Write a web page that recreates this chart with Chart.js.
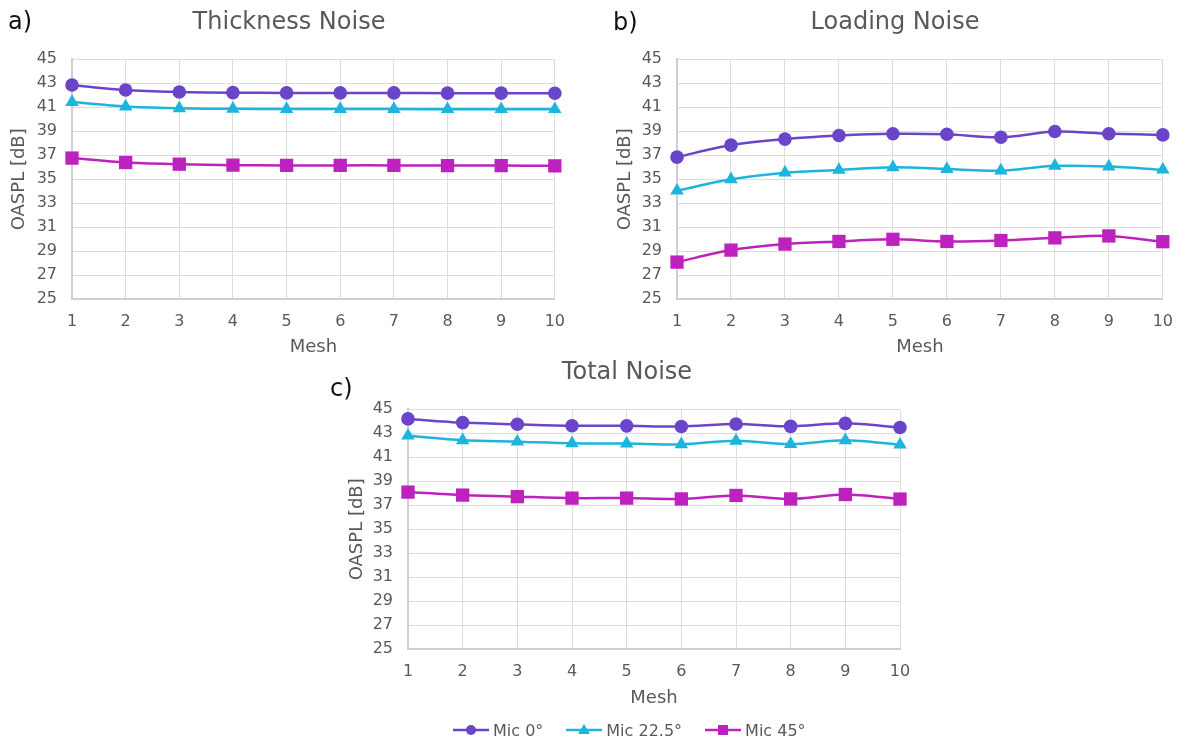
<!DOCTYPE html>
<html>
<head>
<meta charset="utf-8">
<title>OASPL vs Mesh</title>
<script src="https://cdn.jsdelivr.net/npm/chart.js@4.4.1/dist/chart.umd.min.js"></script>
<style>
  html, body { margin: 0; padding: 0; background: #fff; width: 1186px; height: 740px; overflow: hidden; position: relative; font-family: "DejaVu Sans", sans-serif; }
  canvas { position: absolute; }
  #legend { position: absolute; left: 453px; top: 719px; height: 22px; display: flex; align-items: center; color: #595959; font-size: 16px; }
  .item { display: flex; align-items: center; margin-right: 23px; }
  .item svg { margin-right: 4px; }
</style>
</head>
<body>
<canvas id="chartA" width="578" height="360" style="left:0px;top:0px"></canvas>
<canvas id="chartB" width="586" height="360" style="left:600px;top:0px"></canvas>
<canvas id="chartC" width="614" height="367" style="left:320px;top:345px"></canvas>
<div id="legend"></div>

<script>
// Mesh refinement levels
const meshLevels = ['1', '2', '3', '4', '5', '6', '7', '8', '9', '10'];
const yTicks = { min: 25, max: 45, step: 2 };

const seriesNames = ['Mic 0°', 'Mic 22.5°', 'Mic 45°'];

// OASPL [dB] – thickness noise
const thicknessMic0  = [42.86, 42.44, 42.28, 42.22, 42.20, 42.20, 42.20, 42.18, 42.18, 42.17];
const thicknessMic22 = [41.44, 41.06, 40.92, 40.87, 40.85, 40.85, 40.85, 40.84, 40.84, 40.84];
const thicknessMic45 = [36.77, 36.40, 36.26, 36.18, 36.16, 36.16, 36.16, 36.14, 36.14, 36.12];

// OASPL [dB] – loading noise
const loadingMic0  = [36.85, 37.85, 38.35, 38.65, 38.80, 38.75, 38.50, 38.98, 38.80, 38.70];
const loadingMic22 = [34.05, 35.00, 35.55, 35.78, 36.00, 35.85, 35.72, 36.12, 36.06, 35.80];
const loadingMic45 = [28.10, 29.10, 29.60, 29.82, 30.00, 29.82, 29.90, 30.12, 30.28, 29.80];

// OASPL [dB] – total noise
const totalMic0  = [44.20, 43.89, 43.75, 43.63, 43.62, 43.57, 43.78, 43.58, 43.83, 43.48];
const totalMic22 = [42.80, 42.42, 42.30, 42.17, 42.14, 42.08, 42.38, 42.10, 42.42, 42.05];
const totalMic45 = [38.10, 37.85, 37.72, 37.60, 37.60, 37.53, 37.82, 37.53, 37.90, 37.52];

const COLORS = ['#6A45C9', '#1DB5DD', '#BE22BE'];
const MARKERS = [
  { style: 'circle', radius: 6.8 },
  { style: 'triangle', radius: 7.8 },
  { style: 'rect', radius: 9.4 }
];
const TEXT_GREY = '#595959';

Chart.defaults.font.family = '"DejaVu Sans", sans-serif';
Chart.defaults.color = TEXT_GREY;

// Panel tag such as "a)" drawn in the canvas corner
const panelTag = {
  id: 'panelTag',
  afterDraw(chart, args, opts) {
    const ctx = chart.ctx;
    ctx.save();
    ctx.font = '24px "DejaVu Sans", sans-serif';
    ctx.fillStyle = '#111';
    ctx.textBaseline = 'middle';
    ctx.textAlign = 'left';
    ctx.fillText(opts.text, opts.x, opts.y);
    ctx.restore();
  }
};

function makeDatasets(values) {
  return values.map((vals, i) => ({
    label: seriesNames[i],
    data: vals,
    borderColor: COLORS[i],
    backgroundColor: COLORS[i],
    borderWidth: 2.5,
    tension: 0.3,
    pointStyle: MARKERS[i].style,
    pointRadius: MARKERS[i].radius,
    pointBorderWidth: 0,
    pointBackgroundColor: COLORS[i],
    clip: false
  }));
}

function makeChart(id, cfg) {
  return new Chart(document.getElementById(id), {
    type: 'line',
    data: { labels: meshLevels, datasets: makeDatasets(cfg.values) },
    plugins: [panelTag],
    options: {
      responsive: false,
      animation: false,
      events: [],
      layout: { padding: { left: cfg.padLeft, right: cfg.padRight, top: 0, bottom: 0 } },
      plugins: {
        legend: { display: false },
        tooltip: { enabled: false },
        title: {
          display: true,
          text: cfg.title,
          color: TEXT_GREY,
          font: { size: 24, weight: 'normal' },
          padding: { top: cfg.titleTop, bottom: cfg.titleBottom }
        },
        panelTag: { text: cfg.tag, x: cfg.tagX, y: cfg.tagY }
      },
      scales: {
        x: {
          type: 'category',
          offset: false,
          grid: { color: '#DCDCDC', lineWidth: 1, drawTicks: false },
          border: { display: true, color: '#CFCFCF', width: 2 },
          ticks: { padding: 13, maxRotation: 0, autoSkip: false, color: TEXT_GREY, font: { size: 16 } },
          title: { display: true, text: 'Mesh', color: TEXT_GREY, font: { size: 18 }, padding: { top: 0, bottom: cfg.meshPad } },
          afterFit(scale) { scale.height = cfg.xHeight; }
        },
        y: {
          min: yTicks.min,
          max: yTicks.max,
          grid: { color: '#DCDCDC', lineWidth: 1, drawTicks: false },
          border: { display: true, color: '#CFCFCF', width: 2 },
          ticks: { stepSize: yTicks.step, padding: 15, color: TEXT_GREY, font: { size: 16 } },
          title: { display: true, text: 'OASPL [dB]', color: TEXT_GREY, font: { size: 18 }, padding: { top: cfg.yTitlePad, bottom: 0 } },
          afterFit(scale) { scale.width = cfg.yWidth; }
        }
      }
    }
  });
}

makeChart('chartA', {
  values: [thicknessMic0, thicknessMic22, thicknessMic45],
  title: 'Thickness Noise', tag: 'a)', tagX: 8, tagY: 23,
  padLeft: 16, padRight: 16, yWidth: 56, yTitlePad: -7,
  titleTop: 8.6, titleBottom: 21.9, xHeight: 60.7, meshPad: 2.2
});

makeChart('chartB', {
  values: [loadingMic0, loadingMic22, loadingMic45],
  title: 'Loading Noise', tag: 'b)', tagX: 13, tagY: 24,
  padLeft: 24, padRight: 20, yWidth: 53, yTitlePad: -9,
  titleTop: 8.6, titleBottom: 21.9, xHeight: 60.7, meshPad: 2.2
});

makeChart('chartC', {
  values: [totalMic0, totalMic22, totalMic45],
  title: 'Total Noise', tag: 'c)', tagX: 10, tagY: 45,
  padLeft: 34, padRight: 34, yWidth: 54, yTitlePad: -7,
  titleTop: 13.6, titleBottom: 21.9, xHeight: 62.7, meshPad: 3.2
});

// Shared legend: line segment with the series marker, then the name
function markerSvg(i) {
  const c = COLORS[i];
  let shape;
  if (MARKERS[i].style === 'circle') {
    shape = `<circle cx="18" cy="8" r="5" fill="${c}"/>`;
  } else if (MARKERS[i].style === 'triangle') {
    shape = `<polygon points="18,2 24,12 12,12" fill="${c}"/>`;
  } else {
    shape = `<rect x="13" y="3" width="10" height="10" fill="${c}"/>`;
  }
  return `<svg width="36" height="16" viewBox="0 0 36 16"><line x1="0" y1="8" x2="36" y2="8" stroke="${c}" stroke-width="2.5"/>${shape}</svg>`;
}
const legendEl = document.getElementById('legend');
seriesNames.forEach((name, i) => {
  const item = document.createElement('div');
  item.className = 'item';
  item.innerHTML = markerSvg(i) + `<span>${name}</span>`;
  legendEl.appendChild(item);
});
</script>
</body>
</html>
